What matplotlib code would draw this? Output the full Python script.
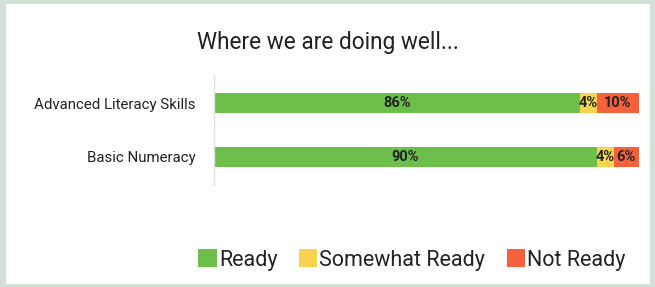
import matplotlib.pyplot as plt
from matplotlib.patches import Rectangle, Patch

categories = ["Advanced Literacy Skills", "Basic Numeracy"]
ready = [86, 90]
somewhat = [4, 4]
not_ready = [10, 6]
series_names = ["Ready", "Somewhat Ready", "Not Ready"]
colors = ["#6bbf4a", "#f8d34e", "#f6603a"]

plt.rcParams["font.family"] = ["Roboto", "DejaVu Sans"]

fig = plt.figure(figsize=(6.55, 2.87), dpi=100)
fig.patch.set_facecolor("#d3e2d7")
# white card behind everything
fig.patches.append(Rectangle((6 / 655, 3 / 287), (650 - 6) / 655, (283 - 3) / 287,
                             transform=fig.transFigure, facecolor="white",
                             edgecolor="none", zorder=-5))

ax = fig.add_axes([214 / 655, 1 - 185 / 287, (639 - 214) / 655, (185 - 75) / 287])
ax.set_zorder(2)
ax.set_facecolor("none")

ypos = list(range(len(categories)))
left = [0] * len(categories)
for vals, name, col in zip([ready, somewhat, not_ready], series_names, colors):
    bars = ax.barh(ypos, vals, left=left, height=0.38, color=col, label=name)
    for b, v in zip(bars, vals):
        ax.text(b.get_x() + b.get_width() / 2, b.get_y() + b.get_height() / 2,
                f"{v}%", ha="center", va="center", fontsize=10.5,
                fontweight="bold", color="#222222")
    left = [l + v for l, v in zip(left, vals)]

ax.set_xlim(0, 100)
ax.set_ylim(1.52, -0.52)
ax.set_yticks(ypos)
ax.set_yticklabels(categories, fontsize=10.8, color="#222222")
ax.tick_params(axis="y", length=0, pad=13)
ax.set_xticks([])
for s in ["top", "right", "bottom"]:
    ax.spines[s].set_visible(False)
ax.spines["left"].set_color("#e0e0e0")
ax.spines["left"].set_linewidth(1)

fig.text(0.5, 1 - 42 / 287, "Where we are doing well...", ha="center", va="center",
         fontsize=16.3, color="#222222")

handles = [Patch(facecolor=c, edgecolor="none") for c in colors]
leg = fig.legend(handles, series_names, loc="center", bbox_to_anchor=(412 / 655, 1 - 260 / 287),
                 ncol=3, frameon=False, fontsize=15.5, handlelength=0.85, handleheight=0.85,
                 handletextpad=0.1, columnspacing=1.0, labelcolor="#222222")
leg.set_zorder(3)

fig.savefig("out.png", dpi=100, facecolor=fig.get_facecolor())
